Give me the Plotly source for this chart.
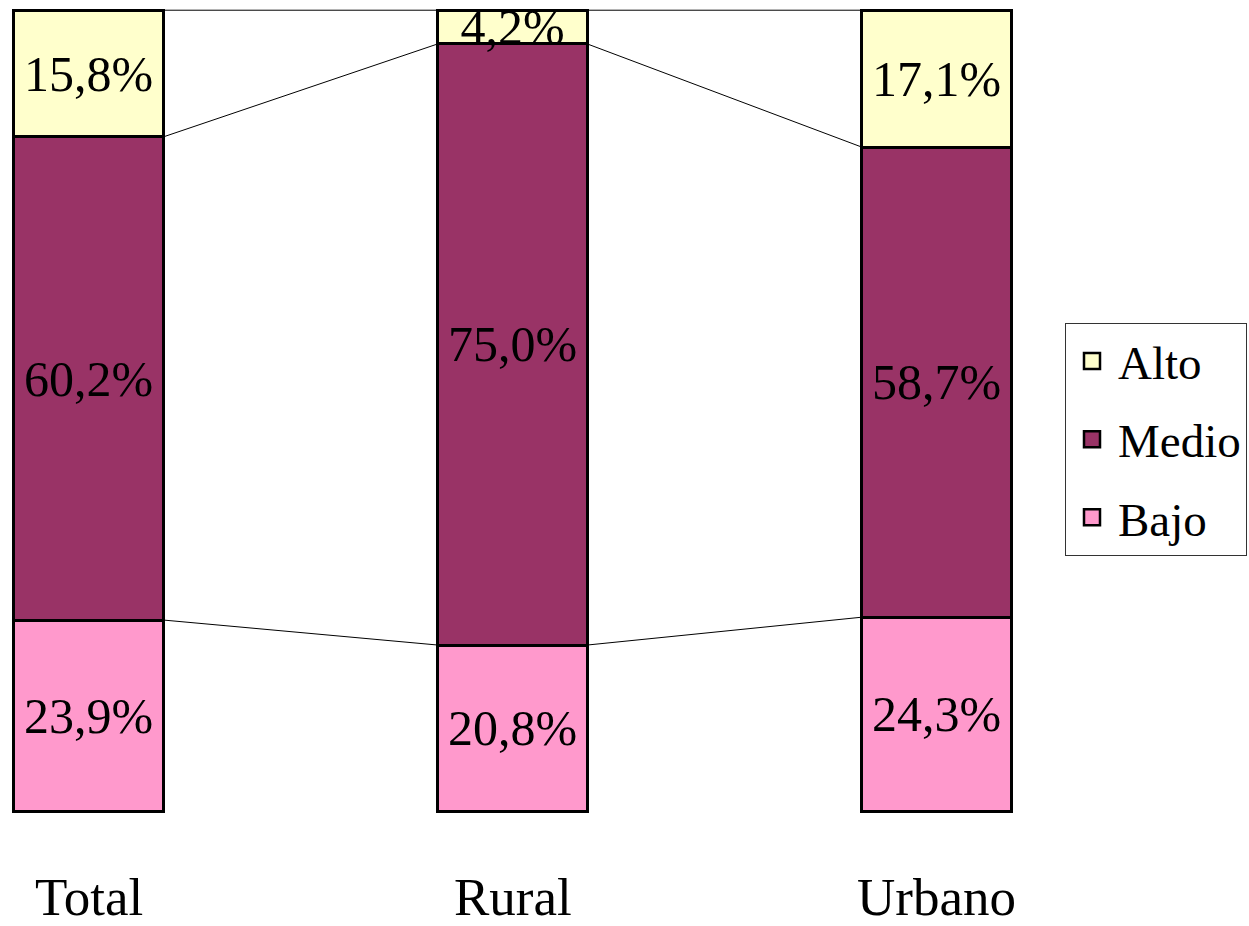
import plotly.graph_objects as go

categories = ["Total", "Rural", "Urbano"]
bajo = [23.9, 20.8, 24.3]
medio = [60.2, 75.0, 58.7]
alto = [15.8, 4.2, 17.1]

series = [("Bajo", bajo, "#FF99CC"), ("Medio", medio, "#993366"), ("Alto", alto, "#FFFFCC")]

FONT = "Liberation Serif"
n = len(categories)
xs = list(range(n))
totals = [sum(s[1][i] for s in series) for i in range(n)]
bar_w = 0.352

fig = go.Figure()
cum = [0.0] * n
levels = []
for name, vals, color in series:
    norm = [vals[i] / totals[i] * 100 for i in range(n)]
    fig.add_trace(go.Bar(
        x=xs, y=norm, name=name, width=bar_w,
        marker=dict(color=color, line=dict(color="black", width=3)),
        text=[f"{v:.1f}%".replace(".", ",") for v in vals],
        textposition="inside", insidetextanchor="middle",
        insidetextfont=dict(family=FONT, size=50, color="black"),
        constraintext="none", textangle=0,
        showlegend=False, hoverinfo="skip",
    ))
    cum = [cum[i] + norm[i] for i in range(n)]
    levels.append(list(cum))

# series connector lines
for lev in levels:
    lx, ly = [], []
    for i in range(n - 1):
        lx += [xs[i] + bar_w / 2, xs[i + 1] - bar_w / 2, None]
        ly += [lev[i], lev[i + 1], None]
    fig.add_trace(go.Scatter(x=lx, y=ly, mode="lines", line=dict(color="black", width=1),
                             showlegend=False, hoverinfo="skip"))

# legend entries (Alto, Medio, Bajo from top)
for name, vals, color in reversed(series):
    fig.add_trace(go.Scatter(x=[None], y=[None], mode="markers", name=name, legendgroup=name,
                             marker=dict(symbol="square", size=16, color=color,
                                         line=dict(color="black", width=2.5))))

for i, c in enumerate(categories):
    fig.add_annotation(x=xs[i], y=0, xref="x", yref="paper", text=c, showarrow=False,
                       yanchor="middle", yshift=-82, font=dict(family=FONT, size=53, color="black"))

fig.update_layout(
    width=1249, height=926,
    barmode="stack",
    plot_bgcolor="white", paper_bgcolor="white",
    margin=dict(l=0, r=0, t=7, b=111),
    font=dict(family=FONT, color="black"),
    showlegend=True,
    legend=dict(
        x=1065 / 1249, xanchor="left", y=(815 - 323) / 808, yanchor="top",
        traceorder="grouped", tracegroupgap=14, itemwidth=42,
        font=dict(family=FONT, size=47, color="black"),
        bordercolor="#333333", borderwidth=1, bgcolor="white",
    ),
    xaxis=dict(range=[-88.5 / 424, (1249 - 88.5) / 424], visible=False, fixedrange=True),
    yaxis=dict(range=[-0.4, 100.4], visible=False, fixedrange=True),
)

fig.write_html("out.html", config={"displayModeBar": False},
               post_script="document.body.style.margin='0';")
